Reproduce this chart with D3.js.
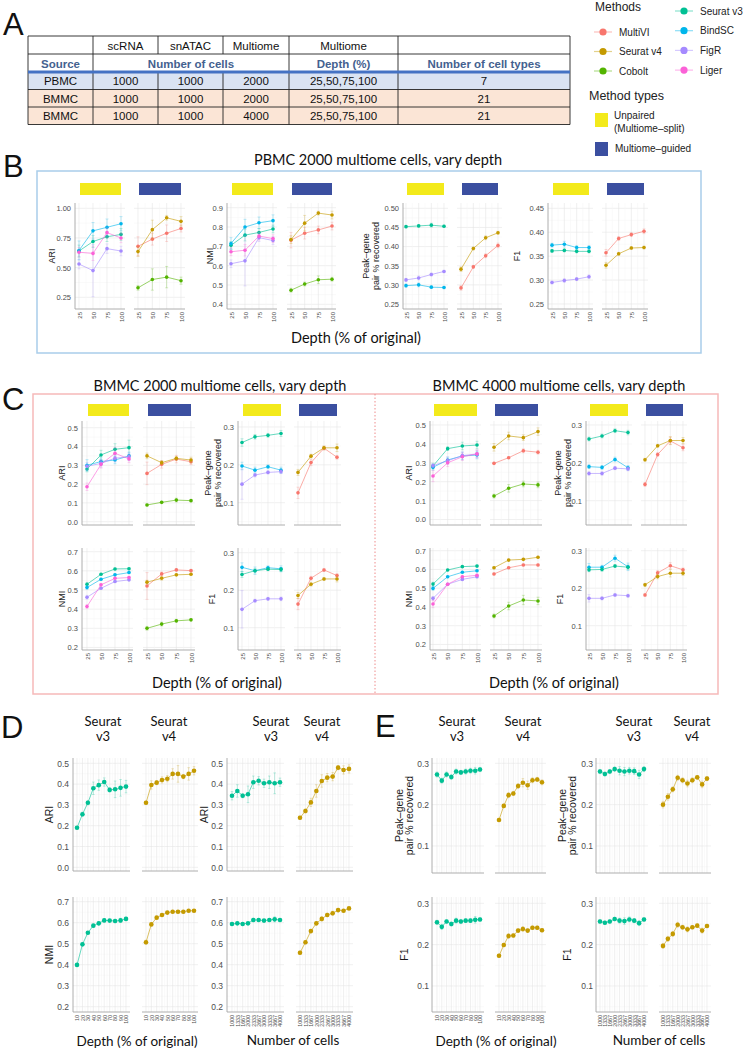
<!DOCTYPE html>
<html><head><meta charset="utf-8">
<script src="https://cdn.jsdelivr.net/npm/d3@7"></script>
<style>body{margin:0;background:#fff}svg{display:block}</style>
</head><body>
<script>
// ---------------- DATA ----------------
const methodNames = ["MultiVI","Seurat v4","Cobolt","Seurat v3","BindSC","FigR","Liger"];
const methodColors = ["#F8766D","#C49A00","#53B400","#00C094","#00B6EB","#A58AFF","#FB61D7"];
const depthLevels = ["25","50","75","100"];
const depthLevels10 = ["10","20","30","40","50","60","70","80","90","100"];
const cellLevels = ["1000","1333","1667","2000","2333","2667","3000","3333","3667","4000"];

const tableHeader1 = ["","scRNA","snATAC","Multiome","Multiome",""];
const tableHeader2 = ["Source","Number of cells","Depth (%)","Number of cell types"];
const tableRows = [
  ["PBMC","1000","1000","2000","25,50,75,100","7"],
  ["BMMC","1000","1000","2000","25,50,75,100","21"],
  ["BMMC","1000","1000","4000","25,50,75,100","21"]
];

// series: [method, values, error half-widths]
// Panel B: PBMC 2000 multiome cells
const pbmcARIUnpaired = [
  ["Seurat v3",[0.64,0.72,0.76,0.78],[0.05,0.05,0.04,0.05]],
  ["BindSC",[0.645,0.81,0.84,0.87],[0.08,0.07,0.07,0.06]],
  ["FigR",[0.53,0.475,0.66,0.64],[0.04,0.22,0.04,0.04]],
  ["Liger",[0.63,0.62,0.795,0.75],[0.04,0.06,0.04,0.04]]];
const pbmcARIGuided = [
  ["MultiVI",[0.68,0.74,0.79,0.83],[0.08,0.05,0.07,0.03]],
  ["Seurat v4",[0.635,0.82,0.92,0.89],[0.04,0.08,0.02,0.04]],
  ["Cobolt",[0.33,0.40,0.42,0.39],[0.02,0.09,0.09,0.03]]];
const pbmcNMIUnpaired = [
  ["Seurat v3",[0.705,0.758,0.772,0.79],[0.02,0.03,0.02,0.02]],
  ["BindSC",[0.715,0.80,0.822,0.833],[0.03,0.04,0.03,0.03]],
  ["FigR",[0.61,0.625,0.745,0.73],[0.02,0.13,0.02,0.02]],
  ["Liger",[0.672,0.68,0.753,0.74],[0.02,0.03,0.02,0.02]]];
const pbmcNMIGuided = [
  ["MultiVI",[0.732,0.768,0.785,0.805],[0.04,0.03,0.02,0.02]],
  ["Seurat v4",[0.735,0.82,0.872,0.862],[0.02,0.04,0.01,0.02]],
  ["Cobolt",[0.473,0.505,0.527,0.53],[0.01,0.01,0.02,0.01]]];
const pbmcPeakUnpaired = [
  ["Seurat v3",[0.452,0.454,0.456,0.453],[0.003,0.003,0.005,0.003]],
  ["FigR",[0.313,0.318,0.327,0.335],[0.004,0.005,0.004,0.003]],
  ["BindSC",[0.298,0.300,0.294,0.293],[0.004,0.005,0.003,0.003]]];
const pbmcPeakGuided = [
  ["MultiVI",[0.292,0.347,0.376,0.403],[0.006,0.004,0.005,0.006]],
  ["Seurat v4",[0.341,0.395,0.423,0.436],[0.006,0.004,0.005,0.004]]];
const pbmcF1Unpaired = [
  ["BindSC",[0.373,0.375,0.368,0.368],[0.004,0.006,0.004,0.004]],
  ["Seurat v3",[0.361,0.362,0.360,0.360],[0.003,0.003,0.003,0.003]],
  ["FigR",[0.295,0.299,0.302,0.307],[0.003,0.004,0.003,0.004]]];
const pbmcF1Guided = [
  ["MultiVI",[0.357,0.387,0.395,0.402],[0.007,0.004,0.004,0.005]],
  ["Seurat v4",[0.331,0.355,0.367,0.368],[0.006,0.003,0.003,0.003]]];

// Panel C left: BMMC 2000 multiome cells
const bm2ARIUnpaired = [
  ["Seurat v3",[0.28,0.355,0.385,0.394],[0.015,0.025,0.03,0.04]],
  ["BindSC",[0.30,0.32,0.328,0.35],[0.03,0.02,0.02,0.02]],
  ["FigR",[0.295,0.31,0.338,0.345],[0.02,0.02,0.02,0.02]],
  ["Liger",[0.186,0.305,0.364,0.334],[0.02,0.02,0.03,0.02]]];
const bm2ARIGuided = [
  ["MultiVI",[0.257,0.305,0.333,0.319],[0.06,0.02,0.02,0.015]],
  ["Seurat v4",[0.35,0.314,0.337,0.328],[0.015,0.01,0.01,0.015]],
  ["Cobolt",[0.089,0.103,0.115,0.112],[0.005,0.005,0.01,0.005]]];
const bm2PeakUnpaired = [
  ["Seurat v3",[0.259,0.274,0.278,0.283],[0.01,0.006,0.005,0.008]],
  ["BindSC",[0.197,0.186,0.195,0.186],[0.01,0.008,0.005,0.008]],
  ["FigR",[0.149,0.173,0.18,0.182],[0.04,0.005,0.004,0.005]]];
const bm2PeakGuided = [
  ["MultiVI",[0.126,0.206,0.244,0.22],[0.015,0.008,0.005,0.005]],
  ["Seurat v4",[0.18,0.223,0.245,0.245],[0.008,0.005,0.005,0.01]]];
const bm2NMIUnpaired = [
  ["Seurat v3",[0.53,0.582,0.61,0.611],[0.01,0.005,0.005,0.005]],
  ["BindSC",[0.513,0.556,0.579,0.591],[0.01,0.005,0.005,0.005]],
  ["FigR",[0.462,0.509,0.544,0.553],[0.01,0.005,0.005,0.005]],
  ["Liger",[0.414,0.527,0.561,0.565],[0.01,0.005,0.005,0.005]]];
const bm2NMIGuided = [
  ["MultiVI",[0.521,0.584,0.605,0.601],[0.07,0.01,0.005,0.005]],
  ["Seurat v4",[0.541,0.561,0.579,0.582],[0.01,0.01,0.005,0.005]],
  ["Cobolt",[0.30,0.322,0.339,0.344],[0.01,0.01,0.008,0.005]]];
const bm2F1Unpaired = [
  ["BindSC",[0.261,0.252,0.26,0.257],[0.012,0.01,0.005,0.008]],
  ["Seurat v3",[0.242,0.252,0.256,0.255],[0.008,0.006,0.004,0.005]],
  ["FigR",[0.149,0.172,0.177,0.177],[0.05,0.004,0.004,0.005]]];
const bm2F1Guided = [
  ["MultiVI",[0.163,0.232,0.254,0.239],[0.015,0.005,0.004,0.005]],
  ["Seurat v4",[0.186,0.216,0.23,0.23],[0.008,0.005,0.004,0.008]]];

// Panel C right: BMMC 4000 multiome cells
const bm4ARIUnpaired = [
  ["Seurat v3",[0.283,0.375,0.389,0.394],[0.015,0.01,0.02,0.02]],
  ["BindSC",[0.276,0.315,0.336,0.341],[0.015,0.015,0.02,0.02]],
  ["FigR",[0.285,0.311,0.338,0.347],[0.01,0.02,0.02,0.02]],
  ["Liger",[0.23,0.30,0.332,0.347],[0.03,0.02,0.02,0.02]]];
const bm4ARIGuided = [
  ["MultiVI",[0.297,0.327,0.364,0.356],[0.005,0.005,0.01,0.01]],
  ["Seurat v4",[0.382,0.442,0.433,0.465],[0.02,0.02,0.015,0.02]],
  ["Cobolt",[0.124,0.165,0.188,0.183],[0.01,0.02,0.015,0.015]]];
const bm4PeakUnpaired = [
  ["Seurat v3",[0.263,0.271,0.285,0.28],[0.005,0.005,0.005,0.006]],
  ["BindSC",[0.19,0.188,0.209,0.187],[0.005,0.005,0.006,0.006]],
  ["FigR",[0.172,0.172,0.186,0.184],[0.005,0.005,0.004,0.005]]];
const bm4PeakGuided = [
  ["MultiVI",[0.143,0.222,0.258,0.24],[0.005,0.005,0.01,0.008]],
  ["Seurat v4",[0.208,0.245,0.259,0.259],[0.004,0.004,0.01,0.008]]];
const bm4NMIUnpaired = [
  ["Seurat v3",[0.522,0.597,0.615,0.618],[0.01,0.005,0.005,0.005]],
  ["BindSC",[0.499,0.561,0.585,0.593],[0.01,0.005,0.005,0.005]],
  ["FigR",[0.446,0.521,0.547,0.561],[0.01,0.005,0.005,0.005]],
  ["Liger",[0.416,0.521,0.561,0.569],[0.02,0.005,0.005,0.005]]];
const bm4NMIGuided = [
  ["MultiVI",[0.576,0.609,0.624,0.624],[0.005,0.005,0.005,0.005]],
  ["Seurat v4",[0.609,0.65,0.654,0.665],[0.005,0.005,0.005,0.005]],
  ["Cobolt",[0.352,0.405,0.437,0.432],[0.01,0.02,0.025,0.02]]];
const bm4F1Unpaired = [
  ["BindSC",[0.256,0.256,0.28,0.257],[0.01,0.005,0.008,0.01]],
  ["Seurat v3",[0.249,0.25,0.259,0.256],[0.005,0.005,0.004,0.006]],
  ["FigR",[0.173,0.173,0.182,0.18],[0.01,0.004,0.004,0.004]]];
const bm4F1Guided = [
  ["MultiVI",[0.182,0.241,0.26,0.249],[0.004,0.006,0.008,0.005]],
  ["Seurat v4",[0.209,0.231,0.24,0.24],[0.004,0.006,0.01,0.006]]];

// Panel D: Seurat v3 / v4, ARI & NMI
const dDepthARIv3 = [0.19,0.255,0.31,0.38,0.395,0.41,0.372,0.375,0.382,0.388];
const dDepthARIv3err = [0.005,0.01,0.01,0.03,0.025,0.02,0.01,0.04,0.04,0.03];
const dDepthARIv4 = [0.31,0.396,0.407,0.42,0.426,0.449,0.449,0.436,0.449,0.464];
const dDepthARIv4err = [0.008,0.02,0.01,0.015,0.015,0.025,0.04,0.01,0.03,0.02];
const dCellsARIv3 = [0.344,0.367,0.344,0.351,0.409,0.416,0.404,0.409,0.404,0.409];
const dCellsARIv3err = [0.02,0.03,0.01,0.04,0.03,0.02,0.02,0.03,0.05,0.02];
const dCellsARIv4 = [0.238,0.271,0.312,0.367,0.415,0.431,0.436,0.479,0.468,0.473];
const dCellsARIv4err = [0.008,0.01,0.02,0.03,0.03,0.02,0.02,0.01,0.02,0.02];
const dDepthNMIv3 = [0.399,0.497,0.552,0.586,0.597,0.611,0.61,0.608,0.611,0.618];
const dDepthNMIv3err = [0.005,0.005,0.005,0.005,0.008,0.008,0.005,0.008,0.01,0.008];
const dDepthNMIv4 = [0.507,0.592,0.624,0.637,0.648,0.652,0.652,0.652,0.657,0.657];
const dDepthNMIv4err = [0.01,0.005,0.005,0.005,0.005,0.005,0.005,0.005,0.005,0.005];
const dCellsNMIv3 = [0.594,0.597,0.594,0.597,0.613,0.613,0.61,0.613,0.616,0.613];
const dCellsNMIv3err = [0.005,0.005,0.005,0.005,0.008,0.005,0.005,0.005,0.012,0.005];
const dCellsNMIv4 = [0.457,0.507,0.56,0.597,0.618,0.637,0.645,0.66,0.657,0.668];
const dCellsNMIv4err = [0.008,0.008,0.008,0.008,0.01,0.008,0.01,0.008,0.005,0.005];

// Panel E: Seurat v3 / v4, peak-gene & F1
const eDepthPeakv3 = [0.273,0.258,0.273,0.267,0.28,0.278,0.28,0.282,0.282,0.285];
const eDepthPeakv3err = [0.006,0.006,0.006,0.006,0.006,0.005,0.006,0.006,0.008,0.005];
const eDepthPeakv4 = [0.163,0.197,0.223,0.227,0.245,0.253,0.247,0.259,0.261,0.254];
const eDepthPeakv4err = [0.004,0.004,0.006,0.005,0.006,0.01,0.01,0.006,0.005,0.006];
const eCellsPeakv3 = [0.28,0.274,0.28,0.286,0.282,0.28,0.282,0.281,0.273,0.286];
const eCellsPeakv3err = [0.005,0.005,0.005,0.005,0.01,0.01,0.008,0.008,0.01,0.006];
const eCellsPeakv4 = [0.2,0.219,0.237,0.265,0.259,0.251,0.259,0.266,0.249,0.263];
const eCellsPeakv4err = [0.008,0.008,0.006,0.006,0.006,0.008,0.006,0.004,0.008,0.005];
const eDepthF1v3 = [0.254,0.243,0.256,0.25,0.258,0.256,0.258,0.258,0.26,0.261];
const eDepthF1v3err = [0.005,0.006,0.004,0.005,0.006,0.005,0.004,0.004,0.008,0.004];
const eDepthF1v4 = [0.173,0.199,0.221,0.222,0.234,0.238,0.234,0.241,0.241,0.235];
const eDepthF1v4err = [0.004,0.004,0.006,0.004,0.004,0.006,0.004,0.004,0.004,0.004];
const eCellsF1v3 = [0.256,0.253,0.256,0.262,0.258,0.257,0.261,0.258,0.252,0.261];
const eCellsF1v3err = [0.004,0.004,0.004,0.004,0.006,0.008,0.006,0.005,0.006,0.004];
const eCellsF1v4 = [0.197,0.214,0.226,0.248,0.242,0.237,0.242,0.246,0.234,0.245];
const eCellsF1v4err = [0.006,0.006,0.006,0.006,0.005,0.006,0.004,0.004,0.006,0.004];

// ---------------- DRAWING ----------------
const W = 745, H = 1050;
const SANS = "'Liberation Sans', Arial, sans-serif";
const HUM = "Lato, 'Open Sans', sans-serif";
const YELLOW = "#F3EA1B", BLUE = "#3B4FA0";
const svg = d3.select("body").append("svg").attr("width", W).attr("height", H);
const colorOf = d3.scaleOrdinal().domain(methodNames).range(methodColors);

function txt(x, y, s, size, opts = {}) {
  return svg.append("text").attr("x", x).attr("y", y).text(s)
    .attr("font-family", opts.family || SANS).attr("font-size", size)
    .attr("font-weight", opts.weight || "normal")
    .attr("fill", opts.fill || "#111").attr("text-anchor", opts.anchor || "start");
}

// ---- Panel letters
[["A",3,35],["B",3,177],["C",2,410],["D",1,738],["E",375,737]].forEach(d => txt(d[1], d[2], d[0], 31, {fill:"#111"}));

// ---- Table (panel A)
(function(){
  const colX = [28,93,158,223,289,398,570];
  const rowY = [36,54,72,89.5,107,124.5];
  const g = svg.append("g");
  const rowFill = ["#DAE3F3","#FBE5D6","#FBE5D6"];
  tableRows.forEach((r,i) => {
    g.append("rect").attr("x", colX[0]).attr("y", rowY[i+2]).attr("width", colX[6]-colX[0])
      .attr("height", rowY[i+3]-rowY[i+2]).attr("fill", rowFill[i]);
  });
  rowY.forEach((y,i) => { if (i !== 2) g.append("line").attr("x1", colX[0]).attr("x2", colX[6]).attr("y1", y).attr("y2", y).attr("stroke","#222").attr("stroke-width",0.9); });
  colX.forEach((x,ci) => {
    [[0,1],[1,2],[2,5]].forEach(([a,b]) => {
      if (a === 1 && (ci === 2 || ci === 3)) return;
      g.append("line").attr("x1", x).attr("x2", x).attr("y1", rowY[a]).attr("y2", rowY[b]).attr("stroke","#222").attr("stroke-width",0.9);
    });
  });
  g.append("line").attr("x1", colX[0]).attr("x2", colX[6]).attr("y1", rowY[2]).attr("y2", rowY[2]).attr("stroke","#4472C4").attr("stroke-width",3);
  const cx = i => (colX[i]+colX[i+1])/2;
  tableHeader1.forEach((s,i) => txt(cx(i), rowY[0]+13.5, s, 11.5, {anchor:"middle"}));
  const h2pos = [cx(0), (colX[1]+colX[4])/2, cx(4), cx(5)];
  tableHeader2.forEach((s,i) => txt(h2pos[i], rowY[1]+13.5, s, 11.5, {anchor:"middle", weight:"bold", fill:"#44618F"}));
  tableRows.forEach((r,ri) => r.forEach((s,i) => txt(cx(i), rowY[ri+2]+13, s, 11.5, {anchor:"middle"})));
})();

// ---- Legend
(function(){
  txt(595, 11, "Methods", 12, {fill:"#222"});
  const leftCol = ["MultiVI","Seurat v4","Cobolt"], rightCol = ["Seurat v3","BindSC","FigR","Liger"];
  const item = (name, x, y) => {
    svg.append("line").attr("x1", x-9).attr("x2", x+9).attr("y1", y).attr("y2", y)
      .attr("stroke", colorOf(name)).attr("stroke-opacity", 0.45).attr("stroke-width", 1.2);
    svg.append("circle").attr("cx", x).attr("cy", y).attr("r", 3.6).attr("fill", colorOf(name));
    txt(x+16, y+3.5, name, 10, {fill:"#222"});
  };
  leftCol.forEach((n,i) => item(n, 603, 32 + i*19.5));
  rightCol.forEach((n,i) => item(n, 684, 11 + i*19.7));
  txt(589, 100, "Method types", 12.5, {fill:"#222"});
  svg.append("rect").attr("x",595).attr("y",113).attr("width",13).attr("height",14).attr("fill",YELLOW);
  txt(614, 119, "Unpaired", 10, {fill:"#222"});
  txt(614, 132, "(Multiome\u2013split)", 10, {fill:"#222"});
  svg.append("rect").attr("x",595).attr("y",142).attr("width",13).attr("height",14).attr("fill",BLUE);
  txt(615, 152, "Multiome\u2013guided", 10, {fill:"#222"});
})();

// ---- Boxes and titles
svg.append("rect").attr("x",37).attr("y",171).attr("width",664).attr("height",182)
  .attr("fill","none").attr("stroke","#A9CDEA").attr("stroke-width",1.5);
svg.append("rect").attr("x",33).attr("y",394).attr("width",685).attr("height",300)
  .attr("fill","none").attr("stroke","#F6B9B9").attr("stroke-width",1.5);
svg.append("line").attr("x1",375).attr("x2",375).attr("y1",394).attr("y2",694)
  .attr("stroke","#EE8C8C").attr("stroke-width",1).attr("stroke-dasharray","1.5,2");
txt(378, 165, "PBMC 2000 multiome cells, vary depth", 14.5, {family:HUM, anchor:"middle"});
txt(220, 391, "BMMC 2000 multiome cells, vary depth", 14.5, {family:HUM, anchor:"middle"});
txt(559, 391, "BMMC 4000 multiome cells, vary depth", 14.5, {family:HUM, anchor:"middle"});
txt(356, 343, "Depth (% of original)", 14.5, {family:HUM, anchor:"middle"});
txt(217, 688, "Depth (% of original)", 14.5, {family:HUM, anchor:"middle"});
txt(554, 688, "Depth (% of original)", 14.5, {family:HUM, anchor:"middle"});
txt(137, 1046, "Depth (% of original)", 13.5, {family:HUM, anchor:"middle"});
txt(293, 1045, "Number of cells", 13.5, {family:HUM, anchor:"middle"});
txt(496, 1046, "Depth (% of original)", 13.5, {family:HUM, anchor:"middle"});
txt(659, 1045, "Number of cells", 13.5, {family:HUM, anchor:"middle"});
// facet titles D/E
[[103,"v3"],[169,"v4"],[271,"v3"],[322,"v4"],[457,"v3"],[523,"v4"],[634,"v3"],[692,"v4"]].forEach(d => {
  txt(d[0], 726, "Seurat", 13, {family:HUM, anchor:"middle"});
  txt(d[0], 741, d[1], 13, {family:HUM, anchor:"middle"});
});

// ---- Generic paired-facet chart
function drawPair(c) {
  const g = svg.append("g");
  const y = d3.scaleLinear().domain([c.ref[0], c.ref[2]]).range([c.ref[1], c.ref[3]]);
  const vTop = y.invert(c.yTop), vBot = y.invert(c.yBot);
  const dt = c.ticks[1] - c.ticks[0];
  const majors = c.ticks.filter(v => v <= vTop + 1e-9 && v >= vBot - 1e-9);
  const minors = [];
  for (let v = c.ticks[0] - dt/2; v < vTop; v += dt) if (v > vBot) minors.push(v);
  const facets = [{range:c.f1, data:c.left, fill:YELLOW}, {range:c.f2, data:c.right, fill:BLUE}];
  facets.forEach((f, i) => {
    const x = d3.scalePoint().domain(c.levels).range(f.range);
    const x0 = i === 0 ? c.axisX : f.range[0] - c.pad;
    const x1 = f.range[1] + c.pad;
    const grid = g.append("g");
    minors.forEach(v => grid.append("line").attr("x1",x0).attr("x2",x1).attr("y1",y(v)).attr("y2",y(v)).attr("stroke","#F4F4F4").attr("stroke-width",0.5));
    majors.forEach(v => grid.append("line").attr("x1",x0).attr("x2",x1).attr("y1",y(v)).attr("y2",y(v)).attr("stroke","#E6E6E6").attr("stroke-width",0.6));
    const xs = c.levels.map(l => x(l));
    for (let k = 0; k < xs.length - 1; k++) {
      const m = (xs[k] + xs[k+1]) / 2;
      grid.append("line").attr("x1",m).attr("x2",m).attr("y1",c.yTop).attr("y2",c.yBot).attr("stroke","#F4F4F4").attr("stroke-width",0.5);
    }
    xs.forEach(xx => grid.append("line").attr("x1",xx).attr("x2",xx).attr("y1",c.yTop).attr("y2",c.yBot).attr("stroke","#E6E6E6").attr("stroke-width",0.6));
    g.append("line").attr("x1",x0).attr("x2",x1).attr("y1",c.yBot).attr("y2",c.yBot).attr("stroke","#A5A5A5").attr("stroke-width",0.9);
    if (i === 0) {
      g.append("line").attr("x1",c.axisX).attr("x2",c.axisX).attr("y1",c.yTop).attr("y2",c.yBot).attr("stroke","#A5A5A5").attr("stroke-width",0.9);
      const ax = g.append("g").attr("transform",`translate(${c.axisX},0)`)
        .call(d3.axisLeft(y).tickValues(majors).tickFormat(d3.format(c.fmt)).tickSize(0).tickPadding(c.tickPad || 4));
      ax.select(".domain").remove();
      ax.selectAll("text").attr("font-family",SANS).attr("font-size",c.tickSize).attr("fill","#4D4D4D");
    }
    if (c.xlabels) {
      const ax = g.append("g").attr("transform",`translate(0,${c.yBot})`)
        .call(d3.axisBottom(x).tickSize(0));
      ax.select(".domain").remove();
      ax.selectAll("text").attr("font-family",SANS).attr("font-size",c.xTickSize).attr("fill","#4D4D4D")
        .attr("transform","rotate(-90)").attr("x",-3).attr("y",0).attr("dy","0.35em").attr("text-anchor","end");
    }
    if (c.bars) {
      g.append("rect").attr("x", f.range[0]+1).attr("y", c.barY).attr("width", f.range[1]-f.range[0]-1)
        .attr("height", 12).attr("fill", f.fill);
    }
    const line = d3.line().x(d => d.x).y(d => y(d.v));
    f.data.forEach(s => {
      const col = colorOf(s[0]);
      const pts = c.levels.map((l,k) => ({x:x(l), v:s[1][k], e:s[2][k]}));
      const sg = g.append("g");
      pts.forEach(p => {
        sg.append("line").attr("x1",p.x).attr("x2",p.x).attr("y1",y(p.v-p.e)).attr("y2",y(p.v+p.e))
          .attr("stroke",col).attr("stroke-opacity",0.35).attr("stroke-width",0.7);
        [p.v-p.e, p.v+p.e].forEach(v => sg.append("line").attr("x1",p.x-c.cap).attr("x2",p.x+c.cap)
          .attr("y1",y(v)).attr("y2",y(v)).attr("stroke",col).attr("stroke-opacity",0.35).attr("stroke-width",0.7));
      });
      sg.append("path").datum(pts).attr("d", line).attr("fill","none").attr("stroke",col)
        .attr("stroke-opacity",0.6).attr("stroke-width",1);
      sg.selectAll("circle").data(pts).join("circle").attr("cx",d => d.x).attr("cy",d => y(d.v))
        .attr("r", c.r).attr("fill", col);
    });
  });
  if (c.ylab) {
    const cy = (c.yTop + c.yBot) / 2;
    c.ylab.lines.forEach((s, k) => {
      svg.append("text").attr("transform",`translate(${c.ylab.x[k]},${cy}) rotate(-90)`)
        .attr("text-anchor","middle").attr("dominant-baseline","central")
        .attr("font-family",SANS).attr("font-size",c.ylabSize).attr("fill","#1a1a1a").text(s);
    });
  }
}

const baseBC = {levels:depthLevels, pad:4, cap:1.5, r:1.8, tickSize:7.5, xTickSize:6, ylabSize:9, bars:true};
const PEAK = ["Peak\u2013gene","pair % recovered"];
// Panel B
const bB = Object.assign({}, baseBC, {yTop:203, yBot:309, barY:183, xlabels:true});
drawPair(Object.assign({}, bB, {axisX:75, f1:[79,121], f2:[138,181], ref:[1.0,208.3,0.25,297.3],
  ticks:[0.25,0.5,0.75,1.0], fmt:".2f", left:pbmcARIUnpaired, right:pbmcARIGuided, ylab:{lines:["ARI"], x:[52]}}));
drawPair(Object.assign({}, bB, {axisX:227, f1:[231,273], f2:[291,332], ref:[0.9,207.7,0.4,304.3],
  ticks:[0.4,0.5,0.6,0.7,0.8,0.9], fmt:".1f", left:pbmcNMIUnpaired, right:pbmcNMIGuided, ylab:{lines:["NMI"], x:[210]}}));
drawPair(Object.assign({}, bB, {axisX:403, f1:[406,444], f2:[461,498], ref:[0.5,208.3,0.25,304],
  ticks:[0.25,0.3,0.35,0.4,0.45,0.5], fmt:".2f", left:pbmcPeakUnpaired, right:pbmcPeakGuided, ylab:{lines:PEAK, x:[366,376]}}));
drawPair(Object.assign({}, bB, {axisX:548, f1:[552,589], f2:[606,644], ref:[0.45,208.3,0.25,304],
  ticks:[0.25,0.3,0.35,0.4,0.45], fmt:".2f", left:pbmcF1Unpaired, right:pbmcF1Guided, ylab:{lines:["F1"], x:[517]}}));

// Panel C
const cTop = Object.assign({}, baseBC, {yTop:421, yBot:525, barY:404, xlabels:false});
const cBot = Object.assign({}, baseBC, {yTop:548, yBot:650, bars:false, xlabels:true});
const t05 = [0,0.1,0.2,0.3,0.4,0.5], t13 = [0.1,0.2,0.3], t27 = [0.2,0.3,0.4,0.5,0.6,0.7];
drawPair(Object.assign({}, cTop, {axisX:82, f1:[87,129], f2:[147,191], ref:[0.5,427.7,0.0,521.7], ticks:t05, fmt:".1f",
  left:bm2ARIUnpaired, right:bm2ARIGuided, ylab:{lines:["ARI"], x:[62]}}));
drawPair(Object.assign({}, cTop, {axisX:238, f1:[242,281], f2:[298,337], ref:[0.3,427,0.1,502.7], ticks:t13, fmt:".1f",
  left:bm2PeakUnpaired, right:bm2PeakGuided, ylab:{lines:PEAK, x:[208,218]}}));
drawPair(Object.assign({}, cBot, {axisX:82, f1:[87,129], f2:[147,191], ref:[0.7,551.7,0.3,628.3], ticks:t27, fmt:".1f",
  left:bm2NMIUnpaired, right:bm2NMIGuided, ylab:{lines:["NMI"], x:[62]}}));
drawPair(Object.assign({}, cBot, {axisX:238, f1:[242,281], f2:[298,337], ref:[0.3,552.7,0.1,627.7], ticks:t13, fmt:".1f",
  left:bm2F1Unpaired, right:bm2F1Guided, ylab:{lines:["F1"], x:[212]}}));
drawPair(Object.assign({}, cTop, {axisX:430, f1:[433,477], f2:[494,538], ref:[0.5,425,0.0,519.5], ticks:t05, fmt:".1f",
  left:bm4ARIUnpaired, right:bm4ARIGuided, ylab:{lines:["ARI"], x:[409]}}));
drawPair(Object.assign({}, cTop, {axisX:586, f1:[589,628], f2:[645,683], ref:[0.3,425,0.1,500.7], ticks:t13, fmt:".1f",
  left:bm4PeakUnpaired, right:bm4PeakGuided, ylab:{lines:PEAK, x:[558,568]}}));
drawPair(Object.assign({}, cBot, {axisX:430, f1:[433,477], f2:[494,538], ref:[0.7,550.7,0.3,625.7], ticks:t27, fmt:".1f",
  left:bm4NMIUnpaired, right:bm4NMIGuided, ylab:{lines:["NMI"], x:[409]}}));
drawPair(Object.assign({}, cBot, {axisX:586, f1:[589,628], f2:[645,683], ref:[0.3,550.7,0.1,625.7], ticks:t13, fmt:".1f",
  left:bm4F1Unpaired, right:bm4F1Guided, ylab:{lines:["F1"], x:[560]}}));

// Panels D & E
const baseDE = {pad:4, cap:1.3, r:2.3, tickSize:8.5, xTickSize:5.3, ylabSize:10.5, bars:false};
const dTop = Object.assign({}, baseDE, {yTop:758, yBot:871, xlabels:false});
const dBot = Object.assign({}, baseDE, {yTop:897, yBot:1012, xlabels:true});
const sv3 = (v,e) => [["Seurat v3", v, e]], sv4 = (v,e) => [["Seurat v4", v, e]];
drawPair(Object.assign({}, dTop, {levels:depthLevels10, axisX:73, f1:[77,126], f2:[146,194], ref:[0.5,763.3,0.0,867.3], ticks:t05, fmt:".1f",
  left:sv3(dDepthARIv3,dDepthARIv3err), right:sv4(dDepthARIv4,dDepthARIv4err), ylab:{lines:["ARI"], x:[49]}}));
drawPair(Object.assign({}, dTop, {levels:cellLevels, axisX:227, f1:[232,280], f2:[300,349], ref:[0.5,763.3,0.0,867.3], ticks:t05, fmt:".1f",
  left:sv3(dCellsARIv3,dCellsARIv3err), right:sv4(dCellsARIv4,dCellsARIv4err), ylab:{lines:["ARI"], x:[204]}}));
drawPair(Object.assign({}, dBot, {levels:depthLevels10, axisX:73, f1:[77,126], f2:[146,194], ref:[0.7,901.7,0.2,1006.7], ticks:t27, fmt:".1f",
  left:sv3(dDepthNMIv3,dDepthNMIv3err), right:sv4(dDepthNMIv4,dDepthNMIv4err), ylab:{lines:["NMI"], x:[49]}}));
drawPair(Object.assign({}, dBot, {levels:cellLevels, axisX:227, f1:[232,280], f2:[300,349], ref:[0.7,901.7,0.2,1006.7], ticks:t27, fmt:".1f",
  left:sv3(dCellsNMIv3,dCellsNMIv3err), right:sv4(dCellsNMIv4,dCellsNMIv4err)}));
const eTop = Object.assign({}, baseDE, {yTop:758, yBot:873, xlabels:false});
drawPair(Object.assign({}, eTop, {levels:depthLevels10, axisX:432, f1:[437,480], f2:[499,542], ref:[0.3,763.3,0.1,846], ticks:t13, fmt:".1f", tickPad:3,
  left:sv3(eDepthPeakv3,eDepthPeakv3err), right:sv4(eDepthPeakv4,eDepthPeakv4err), ylab:{lines:PEAK, x:[399,409]}}));
drawPair(Object.assign({}, eTop, {levels:cellLevels, axisX:596, f1:[600,644], f2:[663,707], ref:[0.3,763.3,0.1,846], ticks:t13, fmt:".1f", tickPad:3,
  left:sv3(eCellsPeakv3,eCellsPeakv3err), right:sv4(eCellsPeakv4,eCellsPeakv4err), ylab:{lines:PEAK, x:[562,572]}}));
drawPair(Object.assign({}, dBot, {levels:depthLevels10, axisX:432, f1:[437,480], f2:[499,542], ref:[0.3,903.3,0.1,986], ticks:t13, fmt:".1f", tickPad:3,
  left:sv3(eDepthF1v3,eDepthF1v3err), right:sv4(eDepthF1v4,eDepthF1v4err), ylab:{lines:["F1"], x:[404]}}));
drawPair(Object.assign({}, dBot, {levels:cellLevels, axisX:596, f1:[600,644], f2:[663,707], ref:[0.3,903.3,0.1,986], ticks:t13, fmt:".1f", tickPad:3,
  left:sv3(eCellsF1v3,eCellsF1v3err), right:sv4(eCellsF1v4,eCellsF1v4err), ylab:{lines:["F1"], x:[567]}}));
</script>
</body></html>
